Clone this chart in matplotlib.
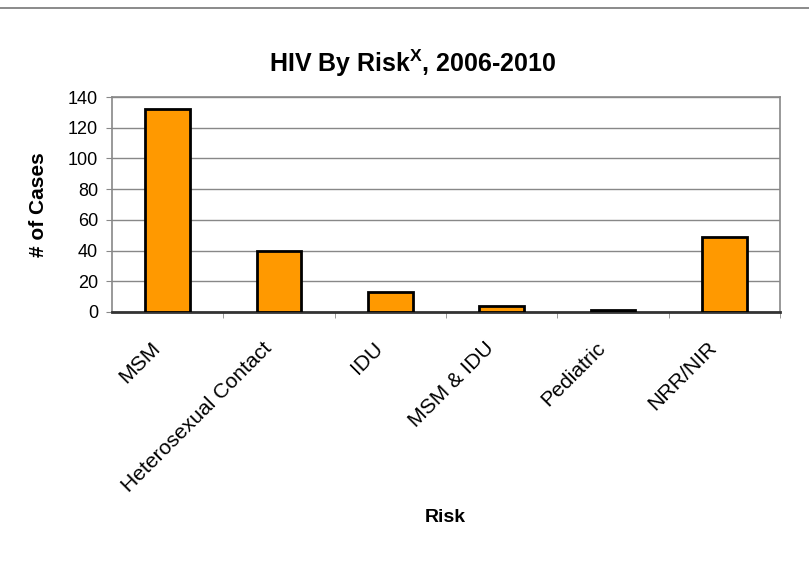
import matplotlib
matplotlib.use("Agg")
import matplotlib.pyplot as plt
from matplotlib.lines import Line2D
from matplotlib.transforms import ScaledTranslation

plt.rcParams['font.family'] = ['Liberation Sans', 'DejaVu Sans']

categorias = ["MSM", "Heterosexual Contact", "IDU", "MSM & IDU", "Pediatric", "NRR/NIR"]
casos = [132, 40, 13, 4, 1, 49]
yticks = [0, 20, 40, 60, 80, 100, 120, 140]

fig = plt.figure(figsize=(8.09, 5.69), dpi=100)
ax = fig.add_axes([0.1384, 0.4517, 0.8258, 0.3778])

# linha cinza no topo da pagina
fig.add_artist(Line2D([0, 1], [1 - 8 / 569, 1 - 8 / 569], color="#777777", lw=1.2))

ax.bar(range(len(categorias)), casos, width=0.40, color="#FF9900",
       edgecolor="black", linewidth=2, zorder=3)

ax.set_xlim(-0.5, len(categorias) - 0.5)
ax.set_ylim(0, 140)
ax.set_yticks(yticks)
ax.yaxis.grid(True, color="#888888", lw=1, zorder=0)

for lado in ["top", "right", "left"]:
    ax.spines[lado].set_color("#888888")
    ax.spines[lado].set_linewidth(1.2)
ax.spines["bottom"].set_color("#333333")
ax.spines["bottom"].set_linewidth(2)

ax.set_xticks(range(len(categorias)))
ax.set_xticklabels(categorias, rotation=45, ha="right", rotation_mode="anchor",
                   fontsize=15.2)
ax.set_xticks([i + 0.5 for i in range(len(categorias))], minor=True)
ax.tick_params(axis="x", which="major", length=0, pad=19)
ax.tick_params(axis="x", which="minor", length=4, color="#888888")
ax.tick_params(axis="y", length=4, color="#888888", labelsize=13, pad=6)

desloc = ScaledTranslation(-0.17, 0, fig.dpi_scale_trans)
for rot in ax.get_xticklabels():
    rot.set_transform(rot.get_transform() + desloc)

ax.set_title("HIV By Risk$^{\\mathregular{X}}$, 2006-2010", fontsize=18,
             fontweight="bold", x=0.45, pad=18)
ax.set_ylabel("# of Cases", fontsize=15, fontweight="bold", labelpad=14)
fig.text(0.55, 1 - 517 / 569, "Risk", fontsize=14, fontweight="bold",
         ha="center", va="center")

fig.savefig("out.png", dpi=100)
